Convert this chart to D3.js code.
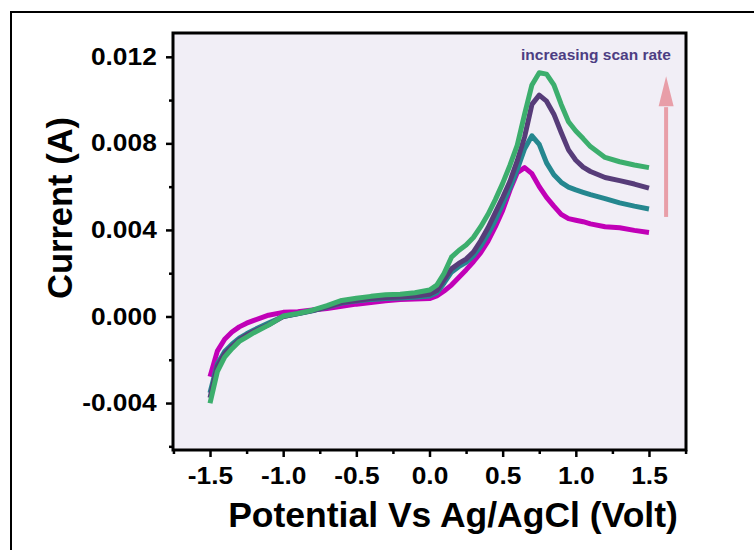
<!DOCTYPE html>
<html lang='en'>
<head>
    <title>Cyclic voltammetry - scan rates</title>
    <meta charset='UTF-8'>
    <script src='https://d3js.org/d3.v7.min.js'></script>
    <style>
      body { margin: 0; background: #fff; }
      svg text { font-family: 'Liberation Sans', Arial, sans-serif; font-weight: bold; }
    </style>
</head>
<body>
<svg id='chart' width='754' height='550'></svg>

<script>
// potential grid (V) shared by all scans
const potential = [-1.5, -1.45, -1.4, -1.35, -1.3, -1.25, -1.2, -1.1, -1.0, -0.9, -0.8, -0.7, -0.6, -0.5, -0.4, -0.3, -0.2, -0.1,
  0.0, 0.05, 0.1, 0.15, 0.2, 0.25, 0.3, 0.35, 0.4, 0.45, 0.5, 0.55, 0.6, 0.65, 0.7, 0.75, 0.8, 0.85, 0.9, 0.95,
  1.0, 1.05, 1.1, 1.2, 1.3, 1.4, 1.5]

// currents in mA (converted to A below)
const scanMagenta = [-2.78, -1.6, -1.05, -0.72, -0.48, -0.31, -0.18, 0.06, 0.19, 0.22, 0.30, 0.37, 0.47, 0.57, 0.65, 0.73, 0.78, 0.81,
  0.83, 0.95, 1.18, 1.45, 1.8, 2.15, 2.53, 2.95, 3.48, 4.15, 4.9, 5.84, 6.65, 6.88, 6.6, 6.0, 5.5, 5.1, 4.72, 4.52,
  4.45, 4.38, 4.28, 4.15, 4.1, 3.98, 3.88]
const scanTeal = [-3.53, -2.2, -1.62, -1.28, -1.0, -0.8, -0.62, -0.3, 0.0, 0.12, 0.26, 0.43, 0.62, 0.72, 0.79, 0.83, 0.85, 0.89,
  0.95, 1.1, 1.55, 2.05, 2.3, 2.5, 2.8, 3.25, 3.8, 4.45, 5.2, 5.95, 6.8, 7.75, 8.35, 7.95, 7.1, 6.55, 6.2, 5.98,
  5.85, 5.74, 5.63, 5.45, 5.25, 5.1, 4.97]
const scanPurple = [-3.76, -2.3, -1.72, -1.38, -1.08, -0.86, -0.68, -0.38, 0.0, 0.13, 0.27, 0.45, 0.64, 0.74, 0.83, 0.88, 0.90, 0.95,
  1.03, 1.2, 1.7, 2.2, 2.45, 2.65, 2.98, 3.5, 4.1, 4.8, 5.5, 6.25, 7.2, 8.3, 9.8, 10.23, 9.95, 9.35, 8.5, 7.7,
  7.22, 6.9, 6.7, 6.42, 6.28, 6.12, 5.93]
const scanGreen = [-4.01, -2.55, -1.88, -1.49, -1.15, -0.95, -0.75, -0.40, 0.02, 0.14, 0.29, 0.50, 0.74, 0.84, 0.93, 1.00, 1.03, 1.10,
  1.22, 1.45, 2.0, 2.74, 3.05, 3.30, 3.65, 4.15, 4.72, 5.40, 6.15, 6.99, 7.92, 9.35, 10.7, 11.26, 11.2, 10.7, 9.8, 9.0,
  8.57, 8.22, 7.85, 7.35, 7.15, 7.0, 6.88]

const scanColors = ['#c100b7', '#25878f', '#573c79', '#3cae6d']   // drawn in this order, green on top

const xMajorTicks = [-1.5, -1.0, -0.5, 0.0, 0.5, 1.0, 1.5]
const xMinorTicks = [-1.75, -1.25, -0.75, -0.25, 0.25, 0.75, 1.25, 1.75]
const yMajorTicks = [-0.004, 0.0, 0.004, 0.008, 0.012]
const yMinorTicks = [-0.006, -0.002, 0.002, 0.006, 0.010]

// annotation: label + arrow pointing to higher scan rate
const noteText = 'increasing scan rate'
const arrowAt = { x: 1.617, from: 0.0046, to: 0.0111, headBase: 0.00972 }

const svg = d3.select('#chart')
const plotLeft = 173, plotRight = 686, plotTop = 33, plotBottom = 450

const x = d3.scaleLinear().domain([-1.753, 1.753]).range([plotLeft, plotRight])
const y = d3.scaleLinear().domain([-0.00617, 0.0131]).range([plotBottom, plotTop])

// outer figure frame (runs off the right/bottom edge)
svg.append('rect')
    .attr('x', 11).attr('y', 12).attr('width', 800).attr('height', 600)
    .attr('fill', 'none').attr('stroke', '#000').attr('stroke-width', 2)

// plot background
svg.append('rect')
    .attr('x', plotLeft).attr('y', plotTop).attr('width', plotRight - plotLeft).attr('height', plotBottom - plotTop)
    .attr('fill', '#f1eef6')

// axes - major then minor ticks
svg.append('g')
    .attr('transform', `translate(0,${plotBottom})`)
    .call(d3.axisBottom(x).tickValues(xMajorTicks).tickSize(7).tickPadding(10).tickFormat(d => d.toFixed(1)))
svg.append('g')
    .attr('transform', `translate(0,${plotBottom})`)
    .call(d3.axisBottom(x).tickValues(xMinorTicks).tickSize(4).tickFormat(''))

svg.append('g')
    .attr('transform', `translate(${plotLeft},0)`)
    .call(d3.axisLeft(y).tickValues(yMajorTicks).tickSize(7).tickPadding(7.5).tickFormat(d => d.toFixed(3)))
svg.append('g')
    .attr('transform', `translate(${plotLeft},0)`)
    .call(d3.axisLeft(y).tickValues(yMinorTicks).tickSize(4).tickFormat(''))

svg.selectAll('.domain').remove()
svg.selectAll('.tick line').attr('stroke', '#000').attr('stroke-width', 2.5)
svg.selectAll('.tick text')
    .attr('fill', '#000')
    .style('font-size', '23.5px')
    .attr('transform', 'scale(1.12,1)')

// curves
const scans = [scanMagenta, scanTeal, scanPurple, scanGreen]
const line = d3.line()
    .x((d, i) => x(potential[i]))
    .y(d => y(d / 1000))

svg.append('g').selectAll('path')
    .data(scans).enter()
    .append('path')
      .attr('d', line)
      .attr('fill', 'none')
      .attr('stroke', (d, i) => scanColors[i])
      .attr('stroke-width', 5)
      .attr('stroke-linejoin', 'round')

// plot frame on top
svg.append('rect')
    .attr('x', plotLeft).attr('y', plotTop).attr('width', plotRight - plotLeft).attr('height', plotBottom - plotTop)
    .attr('fill', 'none').attr('stroke', '#000').attr('stroke-width', 3)

// annotation
svg.append('text')
    .attr('x', x(1.65)).attr('y', y(0.01183))
    .attr('text-anchor', 'end')
    .attr('fill', '#4d3d82')
    .style('font-size', '15.5px')
    .text(noteText)

svg.append('line')
    .attr('x1', x(arrowAt.x)).attr('x2', x(arrowAt.x))
    .attr('y1', y(arrowAt.from)).attr('y2', y(arrowAt.headBase) + 1)
    .attr('stroke', '#e89ea8').attr('stroke-width', 4)
svg.append('path')
    .attr('d', `M${x(arrowAt.x) - 7.5},${y(arrowAt.headBase)} L${x(arrowAt.x) + 7.5},${y(arrowAt.headBase)} L${x(arrowAt.x)},${y(arrowAt.to)} Z`)
    .attr('fill', '#e89ea8')

// axis titles
svg.append('text')
    .attr('x', 453).attr('y', 527)
    .attr('text-anchor', 'middle')
    .style('font-size', '35.5px')
    .text('Potential Vs Ag/AgCl (Volt)')

svg.append('text')
    .attr('transform', 'translate(72,208) rotate(-90)')
    .attr('text-anchor', 'middle')
    .style('font-size', '34.5px')
    .text('Current (A)')
</script>
</body>
</html>
